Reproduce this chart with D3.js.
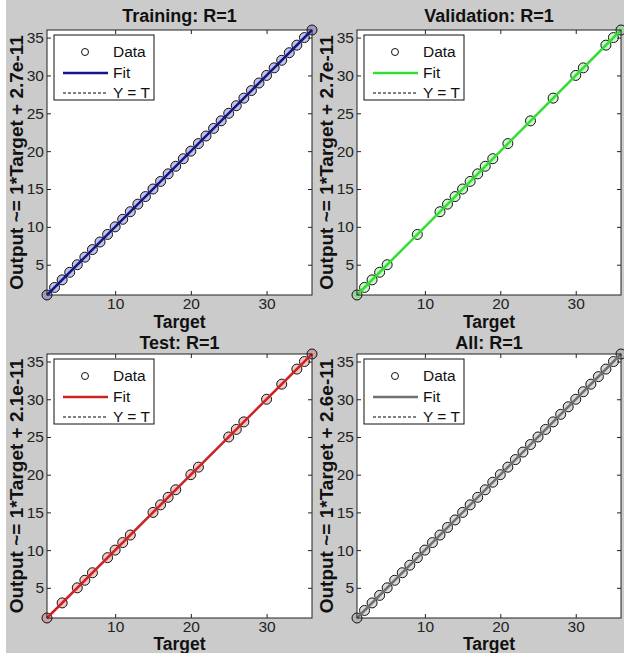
<!DOCTYPE html>
<html>
<head>
<meta charset="utf-8">
<script src="https://cdn.jsdelivr.net/npm/d3@7"></script>
<style>
  body { margin: 0; background: #cbcbcb; }
  svg { display: block; font-family: "Liberation Sans", Arial, sans-serif; }
</style>
</head>
<body>
<div id="chart"></div>
<script>
// targets of each subset (outputs equal the targets, R=1)
const trainTargets = [1, 2, 3, 4, 5, 6, 7, 8, 9, 10, 11, 12, 13, 14, 15, 16, 17, 18,
  19, 20, 21, 22, 23, 24, 25, 26, 27, 28, 29, 30, 31, 32, 33, 34, 35, 36];
const valTargets = [1, 2, 3, 4, 5, 9, 12, 13, 14, 15, 16, 17, 18, 19, 21, 24, 27, 30, 31, 34, 35, 36];
const testTargets = [1, 3, 5, 6, 7, 9, 10, 11, 12, 15, 16, 17, 18, 20, 21, 25, 26, 27, 30, 32, 34, 35, 36];
const allTargets = [1, 2, 3, 4, 5, 6, 7, 8, 9, 10, 11, 12, 13, 14, 15, 16, 17, 18,
  19, 20, 21, 22, 23, 24, 25, 26, 27, 28, 29, 30, 31, 32, 33, 34, 35, 36];

const panelNames = ["Training", "Validation", "Test", "All"];
const intercepts = ["2.7e-11", "2.7e-11", "2.1e-11", "2.6e-11"];
const slopes = [1, 1, 1, 1];
const xTicks = [10, 20, 30];
const yTicks = [5, 10, 15, 20, 25, 30, 35];
const domain = [1, 36];

const colors = ["#14148c", "#33dd33", "#cc2222", "#707070"];
const targets = [trainTargets, valTargets, testTargets, allTargets];

const width = 624, height = 653;

const svg = d3.select("#chart")
  .append("svg")
  .attr("width", width)
  .attr("height", height);

svg.append("rect").attr("width", width).attr("height", height).attr("fill", "#cbcbcb");
svg.append("rect").attr("width", 6).attr("height", height).attr("fill", "#ffffff");

// plot boxes: [left, right, top, bottom]
const boxes = [
  [47, 312, 30, 295],
  [357, 621, 30, 295],
  [47, 312, 354, 618],
  [357, 621, 354, 618]
];

boxes.forEach(function (b, i) {
  const [l, r, t, bt] = b;
  const x = d3.scaleLinear().domain(domain).range([l, r]);
  const y = d3.scaleLinear().domain(domain).range([bt, t]);
  const g = svg.append("g");
  const color = colors[i];

  g.append("rect")
    .attr("x", l).attr("y", t)
    .attr("width", r - l).attr("height", bt - t)
    .attr("fill", "#fff");

  // axes with inward ticks
  const tickFmt = d3.format("d");
  const axB = g.append("g").attr("transform", "translate(0," + bt + ")")
    .call(d3.axisBottom(x).tickValues(xTicks).tickSizeInner(-4).tickSizeOuter(0).tickPadding(3).tickFormat(tickFmt));
  const axT = g.append("g").attr("transform", "translate(0," + t + ")")
    .call(d3.axisTop(x).tickValues(xTicks).tickSizeInner(-4).tickSizeOuter(0).tickFormat(""));
  const axL = g.append("g").attr("transform", "translate(" + l + ",0)")
    .call(d3.axisLeft(y).tickValues(yTicks).tickSizeInner(-4).tickSizeOuter(0).tickPadding(3).tickFormat(tickFmt));
  const axR = g.append("g").attr("transform", "translate(" + r + ",0)")
    .call(d3.axisRight(y).tickValues(yTicks).tickSizeInner(-4).tickSizeOuter(0).tickFormat(""));

  [axB, axT, axL, axR].forEach(function (a) {
    a.select(".domain").remove();
    a.selectAll("line").attr("stroke", "#222");
    a.selectAll("text")
      .attr("font-size", 15.5)
      .attr("font-family", "Liberation Sans, Arial, sans-serif")
      .attr("fill", "#222");
  });

  // data circles
  g.append("g")
    .selectAll("circle")
    .data(targets[i])
    .join("circle")
    .attr("cx", (d) => x(d))
    .attr("cy", (d) => y(d))
    .attr("r", 5)
    .attr("fill", color)
    .attr("fill-opacity", 0.25)
    .attr("stroke", "#111")
    .attr("stroke-width", 1);

  // Y = T
  g.append("line")
    .attr("x1", x(domain[0])).attr("y1", y(domain[0]))
    .attr("x2", x(domain[1])).attr("y2", y(domain[1]))
    .attr("stroke", "#000")
    .attr("stroke-dasharray", "3,2");

  // fit line
  g.append("line")
    .attr("x1", x(domain[0])).attr("y1", y(slopes[i] * domain[0]))
    .attr("x2", x(domain[1])).attr("y2", y(slopes[i] * domain[1]))
    .attr("stroke", color)
    .attr("stroke-width", 2.5);

  // frame
  g.append("rect")
    .attr("x", l).attr("y", t)
    .attr("width", r - l).attr("height", bt - t)
    .attr("fill", "none")
    .attr("stroke", "#222");

  // titles and labels
  g.append("text")
    .attr("x", (l + r) / 2).attr("y", t - (i < 2 ? 8 : 5))
    .attr("text-anchor", "middle")
    .attr("font-size", 18).attr("font-weight", "bold").attr("fill", "#111")
    .text(panelNames[i] + ": R=1");

  g.append("text")
    .attr("x", (l + r) / 2).attr("y", bt + (i < 2 ? 33 : 32))
    .attr("text-anchor", "middle")
    .attr("font-size", 17.5).attr("font-weight", "bold").attr("fill", "#111")
    .text("Target");

  g.append("text")
    .attr("transform", "translate(" + (l - 24) + "," + ((t + bt) / 2) + ") rotate(-90)")
    .attr("text-anchor", "middle")
    .attr("font-size", 19).attr("font-weight", "bold").attr("fill", "#111")
    .text("Output ~= " + slopes[i] + "*Target + " + intercepts[i]);

  // legend
  const lx = l + 7, ly = t + 5;
  const leg = g.append("g").attr("transform", "translate(" + lx + "," + ly + ")");
  leg.append("rect")
    .attr("width", 100).attr("height", 65)
    .attr("fill", "#fff").attr("stroke", "#111");

  const rows = [17, 38, 58];
  leg.append("circle")
    .attr("cx", 31).attr("cy", rows[0]).attr("r", 3.5)
    .attr("fill", "none").attr("stroke", "#111");
  leg.append("line")
    .attr("x1", 9).attr("x2", 54).attr("y1", rows[1]).attr("y2", rows[1])
    .attr("stroke", color).attr("stroke-width", 2.5);
  leg.append("line")
    .attr("x1", 9).attr("x2", 54).attr("y1", rows[2]).attr("y2", rows[2])
    .attr("stroke", "#000").attr("stroke-dasharray", "3,2");

  leg.selectAll("text.lbl")
    .data(["Data", "Fit", "Y = T"])
    .join("text")
    .attr("class", "lbl")
    .attr("x", 59)
    .attr("y", (d, k) => rows[k] + 5)
    .attr("font-size", 15.5)
    .attr("fill", "#111")
    .text((d) => d);
});
</script>
</body>
</html>
